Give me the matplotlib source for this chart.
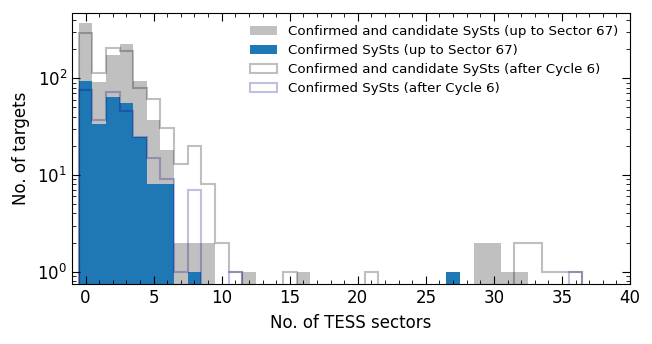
import numpy as np
import matplotlib
matplotlib.use("Agg")
import matplotlib.pyplot as plt
from matplotlib.ticker import AutoMinorLocator

# number of TESS sectors per target (bins centred on integers)
sectors = np.arange(0, 41)

# confirmed + candidate, up to Sector 67 (filled grey)
cand_s67 = {0: 370, 1: 92, 2: 174, 3: 226, 4: 94, 5: 37, 6: 18, 7: 2, 8: 2, 9: 2,
            12: 1, 16: 1, 27: 1, 29: 2, 30: 2, 31: 1, 32: 1}
# confirmed, up to Sector 67 (filled blue)
conf_s67 = {0: 94, 1: 34, 2: 64, 3: 55, 4: 25, 5: 8, 6: 8, 8: 1, 27: 1}
# confirmed + candidate, after Cycle 6 (grey outline)
cand_c6 = {0: 296, 1: 113, 2: 206, 3: 191, 4: 80, 5: 61, 6: 31, 7: 13, 8: 20, 9: 8,
           10: 2, 11: 1, 15: 1, 21: 1, 32: 2, 33: 2, 34: 1, 35: 1, 36: 1}
# confirmed, after Cycle 6 (purple outline)
conf_c6 = {0: 75, 1: 37, 2: 73, 3: 46, 4: 25, 5: 15, 6: 9, 7: 1, 8: 7, 11: 1, 36: 1}

labels = ["Confirmed and candidate SySts (up to Sector 67)",
          "Confirmed SySts (up to Sector 67)",
          "Confirmed and candidate SySts (after Cycle 6)",
          "Confirmed SySts (after Cycle 6)"]


def weights(d):
    return [d.get(s, 0) for s in sectors]


edges = np.arange(-0.5, 41.5, 1)

fig, ax = plt.subplots(figsize=(6.52, 3.44), dpi=100)
fig.subplots_adjust(left=0.1104, right=0.9663, top=0.9622, bottom=0.1744)

ax.hist(sectors, bins=edges, weights=weights(cand_s67), histtype="stepfilled",
        color="silver", label=labels[0])
ax.hist(sectors, bins=edges, weights=weights(conf_s67), histtype="stepfilled",
        color="tab:blue", label=labels[1])
ax.hist(sectors, bins=edges, weights=weights(cand_c6), histtype="step",
        color="k", alpha=0.25, lw=1.5, label=labels[2])
ax.hist(sectors, bins=edges, weights=weights(conf_c6), histtype="step",
        color="navy", alpha=0.25, lw=1.5, label=labels[3])

ax.set_yscale("log")
ax.set_xlim(-1, 40)
ax.set_ylim(0.745, 475)
ax.xaxis.set_minor_locator(AutoMinorLocator(5))
ax.tick_params(which="both", direction="in", top=True, right=True, labelsize=12)
ax.tick_params(which="major", length=6)
ax.tick_params(which="minor", length=3)

ax.set_xlabel("No. of TESS sectors", fontsize=12, labelpad=5)
ax.set_ylabel("No. of targets", fontsize=12, labelpad=5)
ax.legend(loc="upper right", frameon=False, fontsize=9.6, labelspacing=0.45)

plt.savefig("out.png")
